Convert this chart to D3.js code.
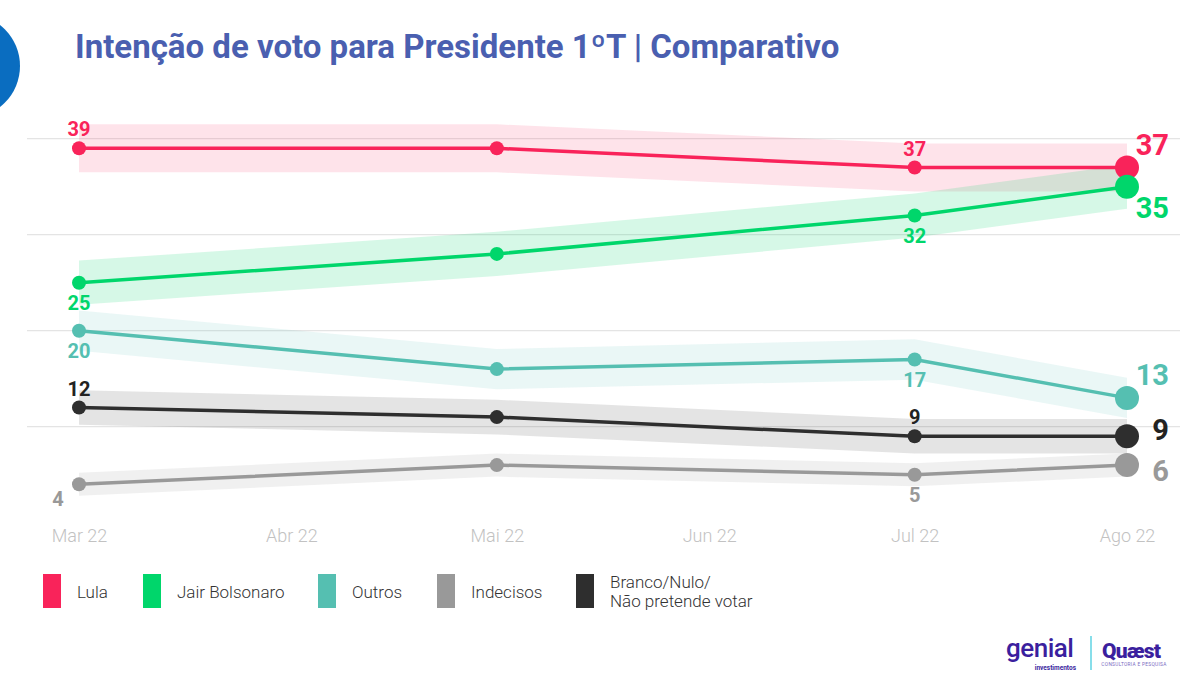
<!DOCTYPE html>
<html>
<head>
<meta charset="utf-8">
<script src="https://cdn.jsdelivr.net/npm/d3@7"></script>
<style>
  html, body { margin: 0; padding: 0; background: #fff; }
  svg { display: block; font-family: Roboto, "Noto Sans", sans-serif; }
</style>
</head>
<body>
<svg id="chart" width="1200" height="682"></svg>
<script>
// ---- Data ----
const tickDates = ["2022-03-01", "2022-04-01", "2022-05-01", "2022-06-01", "2022-07-01", "2022-08-01"];
const tickLabels = ["Mar 22", "Abr 22", "Mai 22", "Jun 22", "Jul 22", "Ago 22"];
const surveyDates = ["2022-03-01", "2022-05-01", "2022-07-01", "2022-08-01"];
const gridValues = [10, 20, 30, 40];

const seriesNames = ["Lula", "Jair Bolsonaro", "Outros", "Indecisos", "Branco/Nulo/\nNão pretende votar"];
const lula = [39, 39, 37, 37];
const bolsonaro = [25, 28, 32, 35];
const outros = [20, 16, 17, 13];
const indecisos = [4, 6, 5, 6];
const branco = [12, 11, 9, 9];
// margin of the shaded band around each series (percentage points)
const margins = [2.5, 2.3, 2.1, 1.2, 1.8];
// which points carry a value label (index into survey points)
const labelledPoints = [0, 2, 3];

const colors = ["#f9235a", "#00d66b", "#55bfb1", "#999999", "#2e2e2e"];
const labelColors = ["#f9235a", "#00d66b", "#55bfb1", "#999999", "#222222"];
const bandOpacity = [0.13, 0.16, 0.12, 0.15, 0.13];

const title = "Intenção de voto para Presidente 1ºT | Comparativo";

// ---- Setup ----
const parse = d3.timeParse("%Y-%m-%d");
const svg = d3.select("#chart");

const x = d3.scaleTime()
  .domain([parse(tickDates[0]), parse(tickDates[tickDates.length - 1])])
  .range([79, 1127]);
const y = d3.scaleLinear().domain([0, 40]).range([522.7, 138.7]);

const valuesList = [lula, bolsonaro, outros, indecisos, branco];
const series = seriesNames.map((name, i) => ({
  name, color: colors[i], labelColor: labelColors[i], margin: margins[i], op: bandOpacity[i],
  idx: i,
  points: surveyDates.map((d, j) => ({ date: parse(d), v: valuesList[i][j], j }))
}));

// ---- Blue circle decoration ----
svg.append("circle").attr("cx", -32).attr("cy", 66).attr("r", 52).attr("fill", "#0a6dc0");

// ---- Title ----
svg.append("text")
  .attr("x", 75).attr("y", 58)
  .attr("fill", "#4a5fb0")
  .attr("font-size", 33).attr("font-weight", 700)
  .text(title);

// ---- Gridlines ----
svg.append("g").selectAll("line").data(gridValues).join("line")
  .attr("x1", 27).attr("x2", 1180)
  .attr("y1", d => y(d)).attr("y2", d => y(d))
  .attr("stroke", "#e4e4e4").attr("stroke-width", 1.2);

// ---- X axis ----
const xAxis = d3.axisBottom(x)
  .tickValues(tickDates.map(parse))
  .tickFormat((d, i) => tickLabels[i])
  .tickSize(0).tickPadding(0);
const gx = svg.append("g").attr("transform", "translate(0,525)").call(xAxis);
gx.select(".domain").remove();
gx.selectAll("text")
  .attr("dy", "0.95em")
  .attr("fill", "#c2c2c2")
  .attr("font-size", 18).attr("font-weight", 300)
  .attr("font-family", "Roboto, sans-serif");

// ---- Bands ----
const area = d3.area()
  .x(d => x(d.date))
  .y0(d => y(d.v - d.m))
  .y1(d => y(d.v + d.m));
svg.append("g").selectAll("path").data(series).join("path")
  .attr("d", s => area(s.points.map(p => ({ ...p, m: s.margin }))))
  .attr("fill", s => s.color).attr("fill-opacity", s => s.op);

// ---- Lines ----
const line = d3.line().x(d => x(d.date)).y(d => y(d.v));
svg.append("g").selectAll("path").data(series).join("path")
  .attr("d", s => line(s.points))
  .attr("fill", "none").attr("stroke", s => s.color).attr("stroke-width", 3.5);

// ---- Points ----
const last = surveyDates.length - 1;
series.forEach(s => {
  svg.append("g").selectAll("circle").data(s.points).join("circle")
    .attr("cx", d => x(d.date)).attr("cy", d => y(d.v))
    .attr("r", d => d.j === last ? 12 : 7)
    .attr("fill", s.color);
});

// ---- Value labels ----
// placement rule: above for Lula / Branco, below for the others
const above = [true, false, false, false, true];
series.forEach(s => {
  s.points.filter(p => labelledPoints.includes(p.j)).forEach(p => {
    const px = x(p.date), py = y(p.v);
    const t = svg.append("text").attr("fill", s.labelColor).attr("font-weight", 700).text(p.v);
    if (p.j === last) {
      let dy;
      if (s.idx === 0) dy = -12.5;
      else if (s.idx === 1) dy = 31;
      else if (s.idx === 2) dy = -13;
      else if (s.idx === 3) dy = 16;
      else dy = 4;
      t.attr("x", px + 42).attr("y", py + dy).attr("text-anchor", "end").attr("font-size", 29);
    } else {
      let dx = 0;
      if (s.idx === 3 && p.j === 0) dx = -21;
      const dy = above[s.idx] ? -12 : (s.idx === 3 && p.j === 0 ? 22 : 27);
      t.attr("x", px + dx).attr("y", py + dy).attr("text-anchor", "middle").attr("font-size", 20);
    }
  });
});

// ---- Legend ----
const legendX = [43, 143, 318, 437, 576];
const lg = svg.append("g");
series.forEach((s, i) => {
  const g = lg.append("g").attr("transform", `translate(${legendX[i]},574)`);
  g.append("rect").attr("width", 18).attr("height", 34).attr("fill", s.color);
  const lines = s.name.split("\n");
  const t = g.append("text").attr("x", 34).attr("fill", "#333").attr("font-size", 17).attr("font-weight", 300);
  if (lines.length === 1) {
    t.attr("y", 24).text(lines[0]);
  } else {
    lines.forEach((ln, k) => t.append("tspan").attr("x", 34).attr("y", 14 + k * 19).text(ln));
  }
});

// ---- Logos ----
const logo = svg.append("g");
logo.append("text").attr("x", 1006).attr("y", 657).attr("fill", "#3b1f9e")
  .attr("font-size", 26).attr("font-weight", 500).attr("letter-spacing", -0.5).text("genial");
logo.append("text").attr("x", 1076).attr("y", 670).attr("text-anchor", "end").attr("fill", "#3b1f9e")
  .attr("font-size", 6.5).attr("font-weight", 700).text("investimentos");
logo.append("line").attr("x1", 1091).attr("x2", 1091).attr("y1", 636).attr("y2", 670)
  .attr("stroke", "#5fd3e3").attr("stroke-width", 1.5);
logo.append("text").attr("x", 1102).attr("y", 658).attr("fill", "#3b1f9e")
  .attr("font-size", 21).attr("font-weight", 900).attr("letter-spacing", -0.8).text("Quæst");
logo.append("text").attr("x", 1134).attr("y", 666).attr("text-anchor", "middle").attr("fill", "#7a6bbf")
  .attr("font-size", 4.8).attr("letter-spacing", 0.3).text("CONSULTORIA E PESQUISA");
</script>
</body>
</html>
